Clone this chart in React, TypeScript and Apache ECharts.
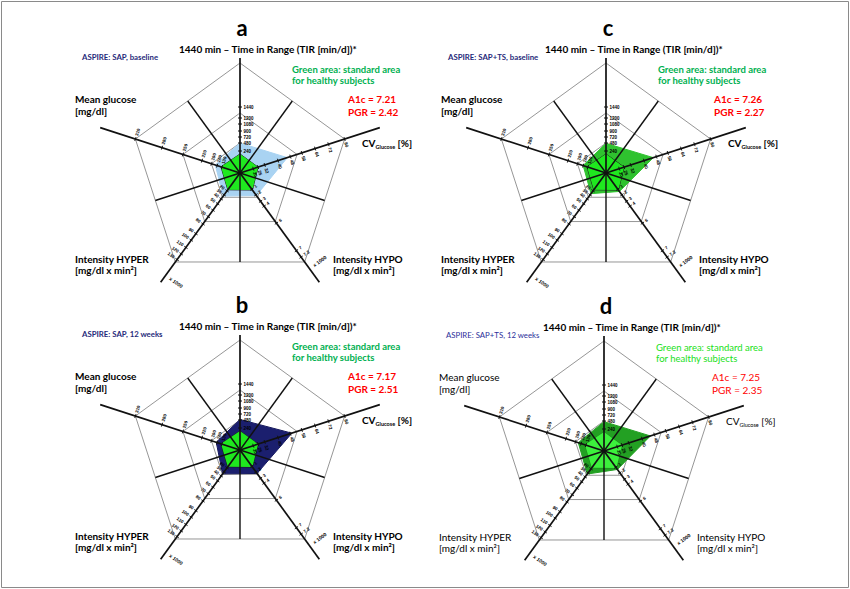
import React, { useEffect, useRef } from "react";
import * as echarts from "echarts";

// ---- axis scales (tick values and their radial positions, radius = 110) ----
// order of indicators: TIR (top), Mean glucose, Intensity HYPER, Intensity HYPO, CV
const TIR_TICKS = [240, 480, 720, 900, 1080, 1200, 1440];
const TIR_POS = [22, 30, 36, 42, 49, 55, 66];
const MG_TICKS = [130, 160, 190, 220, 250, 280, 310];
const MG_POS = [19, 24, 30, 40, 60, 82, 110];
const HYPER_TICKS = [20, 30, 40, 50, 60, 70, 80, 90, 100, 110, 120, 130];
const HYPER_POS = [22, 27, 32, 38, 46, 54, 63, 75, 83, 92, 100, 107];
const HYPO_TICKS = [1, 2, 3, 4, 6, 7, 7.2];
const HYPO_POS = [20, 27, 35, 41, 62, 96, 104];
const CV_TICKS = [20, 25, 32, 40, 48, 56, 64, 72, 80];
const CV_POS = [14, 19, 26, 40, 53, 65, 79, 93, 110];

// ---- data: [TIR-based, mean glucose, HYPER, HYPO, CV] ----
const HEALTHY = [150, 136, 17.5, 1.15, 25];
const SAP_BASELINE = [480, 170, 33, 2.1, 46];
const SAP_12W = [500, 165, 35, 2.25, 49];
const SAPTS_BASELINE = [470, 160, 27, 1.4, 46];
const SAPTS_12W = [460, 175, 33, 1.4, 45.4];

const PANEL_LETTERS = ["a", "b", "c", "d"];
const STUDY_LABELS = [
  "ASPIRE: SAP, baseline",
  "ASPIRE: SAP, 12 weeks",
  "ASPIRE: SAP+TS, baseline",
  "ASPIRE: SAP+TS, 12 weeks",
];
const A1C = ["7.21", "7.17", "7.26", "7.25"];
const PGR = ["2.42", "2.51", "2.27", "2.35"];

const SCALES = [
  [TIR_TICKS, TIR_POS],
  [MG_TICKS, MG_POS],
  [HYPER_TICKS, HYPER_POS],
  [HYPO_TICKS, HYPO_POS],
  [CV_TICKS, CV_POS],
];

function scale(v: number, ticks: number[], pos: number[]) {
  let i = 0;
  if (v <= ticks[0]) i = 0;
  else if (v >= ticks[ticks.length - 1]) i = ticks.length - 2;
  else {
    while (v > ticks[i + 1]) i++;
  }
  const t = (v - ticks[i]) / (ticks[i + 1] - ticks[i]);
  return pos[i] + t * (pos[i + 1] - pos[i]);
}
const toRadial = (vals: number[]) => vals.map((v, k) => scale(v, SCALES[k][0] as number[], SCALES[k][1] as number[]));

const R = 110;
const AX_ANGLES = [90, 162, 234, 306, 18];
const AX_ENDS = [115, 147, 135, 135, 147];
const AX_SIDE = [-1, -1, -1, 1, -1];
const SPOKE_ANGLES = [126, 54, -18, -90, 198];

const CENTERS = [
  [240, 173],
  [240, 450],
  [606, 173],
  [604, 451],
];
const PATIENT_DATA = [SAP_BASELINE, SAP_12W, SAPTS_BASELINE, SAPTS_12W];
const PATIENT_FILL = ["#a9d3f2", "#1b1f6e", "#2fc22f", "#23a023"];
const PATIENT_LINE = ["#a9d3f2", "#10124f", "#2fc22f", "#23a023"];
const HEALTHY_FILL = ["#1fe81f", "#1fe81f", "#1fe81f", "#3cf03c"];

const FONT = "Lato, 'Liberation Sans', sans-serif";
const deg = Math.PI / 180;

function pt(cx: number, cy: number, ang: number, r: number) {
  return [cx + r * Math.cos(ang * deg), cy - r * Math.sin(ang * deg)];
}

function txt(x: number, y: number, text: string, o: any = {}) {
  return {
    type: "text",
    x,
    y,
    z: 30,
    rotation: o.rotation || 0,
    style: {
      text,
      fill: o.fill || "#000",
      fontSize: o.size || 10,
      fontWeight: o.weight || "bold",
      fontFamily: o.family || FONT,
      align: o.align || "left",
      verticalAlign: "middle",
      rich: o.rich,
    },
  };
}

function panelGraphics(p: number) {
  const [cx, cy] = CENTERS[p];
  const els: any[] = [];
  const bold = p === 3 ? "normal" : "bold";
  // main axes
  AX_ANGLES.forEach((a, k) => {
    const [x2, y2] = pt(cx, cy, a, AX_ENDS[k]);
    els.push({ type: "line", z: 20, shape: { x1: cx, y1: cy, x2, y2 }, style: { stroke: "#111", lineWidth: 1.7 } });
  });
  SPOKE_ANGLES.forEach((a) => {
    const [x2, y2] = pt(cx, cy, a, R * Math.cos(36 * deg));
    els.push({ type: "line", z: 20, shape: { x1: cx, y1: cy, x2, y2 }, style: { stroke: "#111", lineWidth: 1.4 } });
  });
  // ticks + labels
  AX_ANGLES.forEach((a, k) => {
    const ticks = SCALES[k][0] as number[];
    const pos = SCALES[k][1] as number[];
    const side = AX_SIDE[k];
    const offDir = a + side * 90;
    let tdir = a - 90;
    while (tdir > 90) tdir -= 180;
    while (tdir <= -90) tdir += 180;
    const align = Math.cos((tdir - offDir) * deg) > 0 ? "left" : "right";
    ticks.forEach((t, i) => {
      const [tx, ty] = pt(cx, cy, a, pos[i]);
      const [ax, ay] = pt(tx, ty, a + 90, 2);
      const [bx, by] = pt(tx, ty, a - 90, 2);
      els.push({ type: "line", z: 21, shape: { x1: ax, y1: ay, x2: bx, y2: by }, style: { stroke: "#111", lineWidth: 1 } });
      const [lx, ly] = pt(tx, ty, offDir, 3.5);
      els.push(txt(lx, ly, String(t), { size: 4.5, rotation: tdir * deg, align, family: "'Liberation Sans', sans-serif" }));
    });
  });
  // x 1000 labels
  {
    const [hx, hy] = pt(cx, cy, 234, 126);
    const [lx, ly] = pt(hx, hy, 324, 5);
    els.push(txt(lx, ly, "x 1000", { size: 5, rotation: -36 * deg, family: "'Liberation Sans', sans-serif" }));
    const [ox, oy] = pt(cx, cy, 306, 118);
    const [mx, my] = pt(ox, oy, 36, 5);
    els.push(txt(mx, my, "x 1000", { size: 5, rotation: 36 * deg, family: "'Liberation Sans', sans-serif" }));
  }
  // texts
  els.push(txt(cx + 2, cy - 146, PANEL_LETTERS[p], { size: 22, align: "center" }));
  els.push(txt(cx - 61, cy - 124, "1440 min – Time in Range (TIR [min/d])*", { size: 10 }));
  els.push(txt(cx - 158, cy - 116, STUDY_LABELS[p], { size: 7.8, fill: p === 3 ? "#2b2f9a" : "#1f2a7a", weight: bold }));
  const green = p === 3 ? "#19e019" : "#00b050";
  els.push(txt(cx + 52, cy - 104, "Green area: standard area", { size: 9.5, fill: green, weight: bold }));
  els.push(txt(cx + 52, cy - 93, "for healthy subjects", { size: 9.5, fill: green, weight: bold }));
  els.push(txt(cx + 108, cy - 74, "A1c = " + A1C[p], { size: 10, fill: "#ff0000", weight: bold }));
  els.push(txt(cx + 108, cy - 61, "PGR = " + PGR[p], { size: 10, fill: "#ff0000", weight: bold }));
  els.push(txt(cx - 165, cy - 74, "Mean glucose", { size: 10, weight: bold }));
  els.push(txt(cx - 165, cy - 62, "[mg/dl]", { size: 10, weight: bold }));
  els.push(
    txt(cx + 122, cy - 30, "{m|CV}{s|Glucose}{m| [%]}", {
      size: 10,
      weight: bold,
      rich: {
        m: { fontSize: 10, fontWeight: bold, fontFamily: FONT, lineHeight: 14, fill: "#000" },
        s: { fontSize: 5.5, fontWeight: bold, fontFamily: FONT, lineHeight: 7, verticalAlign: "bottom", fill: "#000" },
      },
    })
  );
  els.push(txt(cx - 165, cy + 86, "Intensity HYPER", { size: 10, weight: bold }));
  els.push(txt(cx - 165, cy + 97, "[mg/dl x min²]", { size: 10, weight: bold }));
  els.push(txt(cx + 93, cy + 86, "Intensity HYPO", { size: 10, weight: bold }));
  els.push(txt(cx + 93, cy + 97, "[mg/dl x min²]", { size: 10, weight: bold }));
  return els;
}

export default function App() {
  const ref = useRef<HTMLDivElement>(null);
  useEffect(() => {
    if (!ref.current) return;
    const chart = echarts.init(ref.current, undefined, { renderer: "svg" });
    const indicator = [0, 1, 2, 3, 4].map(() => ({ name: "", min: 0, max: R }));
    const radars: any[] = [];
    CENTERS.forEach(([cx, cy]) => {
      [R, 60, 30].forEach((rad) => {
        radars.push({
          center: [cx, cy],
          radius: rad,
          startAngle: 90,
          splitNumber: 1,
          shape: "polygon",
          indicator,
          axisName: { show: false },
          axisLine: { show: false },
          axisTick: { show: false },
          axisLabel: { show: false },
          splitArea: { show: false },
          splitLine: { lineStyle: { color: "#8a8a8a", width: 0.9 } },
        });
      });
    });
    const series: any[] = [];
    PATIENT_DATA.forEach((d, p) => {
      series.push({
        type: "radar",
        radarIndex: p * 3,
        symbol: "none",
        z: 3,
        data: [
          {
            value: toRadial(d),
            areaStyle: { color: PATIENT_FILL[p], opacity: 1 },
            lineStyle: { color: PATIENT_LINE[p], width: 1 },
          },
        ],
      });
      series.push({
        type: "radar",
        radarIndex: p * 3,
        symbol: "none",
        z: 4,
        data: [
          {
            value: toRadial(HEALTHY),
            areaStyle: { color: HEALTHY_FILL[p], opacity: 1 },
            lineStyle: { color: p === 3 ? "#1a8a1a" : "#1a1a1a", width: 1 },
          },
        ],
      });
    });
    const graphic: any[] = [
      { type: "rect", z: 1, shape: { x: 1.5, y: 1.5, width: 847, height: 586 }, style: { fill: "none", stroke: "#8a8a8a", lineWidth: 1 } },
    ];
    [0, 1, 2, 3].forEach((p) => graphic.push(...panelGraphics(p)));
    chart.setOption({
      animation: false,
      backgroundColor: "#fff",
      radar: radars,
      series,
      graphic,
    });
    return () => chart.dispose();
  }, []);
  return <div ref={ref} style={{ position: "absolute", left: 0, top: 0, width: 850, height: 589 }} />;
}
